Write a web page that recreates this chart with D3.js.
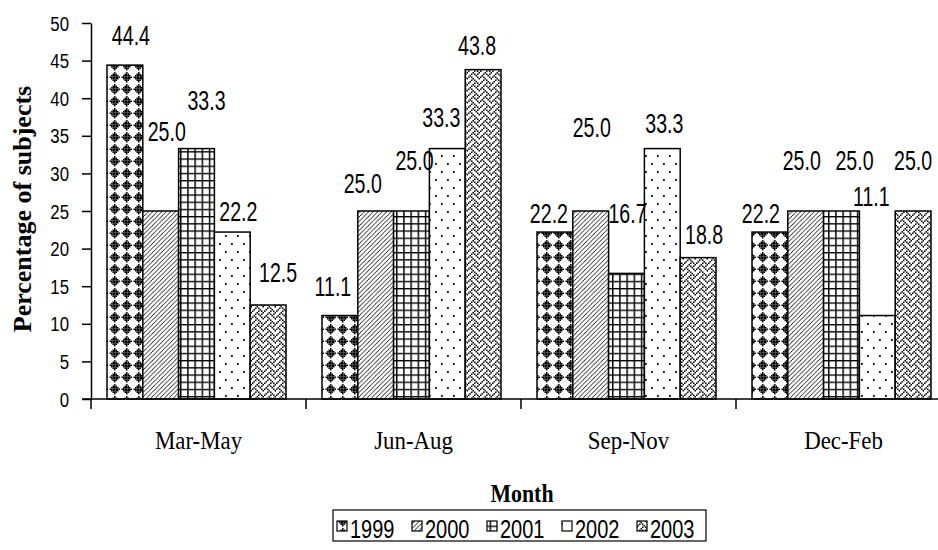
<!DOCTYPE html>
<html><head><meta charset="utf-8">
<script src="https://cdn.jsdelivr.net/npm/d3@7"></script>
<style>html,body{margin:0;padding:0;background:#fff;}</style>
</head><body>
<script>
// ---- data ----
const categories = ["Mar-May", "Jun-Aug", "Sep-Nov", "Dec-Feb"];
const years = ["1999", "2000", "2001", "2002", "2003"];
const v1999 = [44.4, 11.1, 22.2, 22.2];
const v2000 = [25.0, 25.0, 25.0, 25.0];
const v2001 = [33.3, 25.0, 16.7, 25.0];
const v2002 = [22.2, 33.3, 33.3, 11.1];
const v2003 = [12.5, 43.8, 18.8, 25.0];
const yTicks = [0, 5, 10, 15, 20, 25, 30, 35, 40, 45, 50];
const yTitle = "Percentage of subjects";
const xTitle = "Month";

// ---- layout (label offsets from bar top-centre, px) ----
const labelDx = [
  [6, -7, -6, -9],
  [6, -13, 1, -4],
  [10, 3, 1, 13],
  [6, -6, 2, -6],
  [10, -6, 6, 0]
];
const labelDy = [
  [-30, -30, -19, -19],
  [-80, -28, -84, -51],
  [-49, -51, -60, -51],
  [-21, -32, -26, -120],
  [-33, -25, -24, -51]
];

const series = [v1999, v2000, v2001, v2002, v2003];
const W = 938, H = 550;
const svg = d3.select("body").append("svg").attr("width", W).attr("height", H);

// patterns
const defs = svg.append("defs");
function pat(id, w, h) {
  const p = defs.append("pattern").attr("id", id).attr("patternUnits", "userSpaceOnUse")
    .attr("width", w).attr("height", h);
  p.append("rect").attr("width", w).attr("height", h).attr("fill", "#fff");
  return p;
}
function bitmapPat(id, rows, px) {
  const p = pat(id, 8 * px, 8 * px);
  rows.forEach((r, j) => {
    for (let i = 0; i < 8; i++) {
      if (r & (1 << (7 - i))) p.append("rect").attr("x", i * px).attr("y", j * px)
        .attr("width", px).attr("height", px).attr("fill", "#000");
    }
  });
}
bitmapPat("p1999", [0x08, 0x1c, 0x3e, 0x7f, 0x3e, 0x1c, 0x08, 0x00], 1.5);
{ const p = pat("p2000", 4.5, 4.5);
  p.append("path").attr("d", "M-1,5.5 L5.5,-1 M-1,1 L1,-1 M3.5,5.5 L5.5,3.5").attr("stroke", "#000").attr("stroke-width", 0.9); }
{ const p = pat("p2001", 7.2, 7.2);
  p.append("path").attr("d", "M0,0.7 H7.2 M0.7,0 V7.2").attr("stroke", "#000").attr("stroke-width", 1.5); }
{ const p = pat("p2002", 12, 16);
  p.append("rect").attr("x", 3).attr("y", 3).attr("width", 1.8).attr("height", 1.8).attr("fill", "#000");
  p.append("rect").attr("x", 9).attr("y", 11).attr("width", 1.8).attr("height", 1.8).attr("fill", "#000"); }
bitmapPat("p2003", [0x11, 0x2a, 0x44, 0xa2, 0x11, 0x28, 0x44, 0x8a], 1.5);
const fills = years.map(y => "url(#p" + y + ")");

// scales
const plotL = 91, plotR = 951, y0 = 399, y50 = 23;
const x0 = d3.scaleBand().domain(categories).range([plotL, plotR]).paddingInner(0).paddingOuter(0);
const x1 = d3.scaleBand().domain(years).range([16, x0.bandwidth() - 20]);
const y = d3.scaleLinear().domain([0, 50]).range([y0, y50]);

function txt(sel, x, yy, s, o) {
  return sel.append("text")
    .attr("transform", `translate(${x},${yy}) ${o.rot ? "rotate(-90)" : ""} scale(${o.sx || 1},1)`)
    .attr("text-anchor", o.anchor || "middle")
    .attr("font-family", o.family || "Liberation Sans, Arial, sans-serif")
    .attr("font-size", o.size).attr("font-weight", o.weight || "normal")
    .attr("fill", "#000").text(s);
}

// bars
const gBars = svg.append("g");
years.forEach((yr, si) => {
  gBars.selectAll(null).data(series[si]).enter().append("rect")
    .attr("x", (d, i) => x0(categories[i]) + x1(yr))
    .attr("y", d => y(d))
    .attr("width", x1.bandwidth())
    .attr("height", d => y(0) - y(d))
    .attr("fill", fills[si])
    .attr("stroke", "#000").attr("stroke-width", 1.5);
});

// value labels
const gLab = svg.append("g");
years.forEach((yr, si) => {
  series[si].forEach((d, i) => {
    const cx = x0(categories[i]) + x1(yr) + x1.bandwidth() / 2 + labelDx[si][i];
    const cy = y(d) + labelDy[si][i];
    txt(gLab, cx, cy + 10, d.toFixed(1), { size: 28, sx: 0.7 });
  });
});

// y axis
const yAxis = d3.axisLeft(y).tickValues(yTicks).tickSize(9).tickSizeOuter(0).tickFormat(d3.format("d"));
const gy = svg.append("g").attr("transform", `translate(${plotL},0)`).call(yAxis);
gy.select(".domain").attr("stroke", "#000").attr("stroke-width", 1.5);
gy.selectAll(".tick line").attr("stroke", "#000").attr("stroke-width", 1.5);
gy.selectAll(".tick text").remove();
yTicks.forEach(t => txt(gy, -22, y(t) + 7.5, String(t), { size: 21, sx: 0.8, anchor: "end" }));

// x axis
const xAxis = d3.axisBottom(x0).tickSize(0).tickFormat("");
const gx = svg.append("g").attr("transform", `translate(0,${y0})`).call(xAxis);
gx.select(".domain").attr("stroke", "#000").attr("stroke-width", 1.5)
  .attr("d", `M${plotL - 9},0 H${W}`);
const seps = categories.map(c => x0(c)).concat([x0(categories[categories.length - 1]) + x0.bandwidth()]);
gx.selectAll("line.sep").data(seps).enter().append("line").attr("class", "sep")
  .attr("x1", d => d).attr("x2", d => d).attr("y1", 0).attr("y2", 10)
  .attr("stroke", "#000").attr("stroke-width", 1.5);
categories.forEach(c => txt(gx, x0(c) + x0.bandwidth() / 2, 50, c,
  { size: 26, sx: 0.88, family: "Liberation Serif, Times New Roman, serif" }));

// titles
txt(svg, 522, 502, xTitle, { size: 26, sx: 0.84, weight: "bold", family: "Liberation Serif, Times New Roman, serif" });
txt(svg, 31, 209, yTitle, { size: 26, sx: 1, weight: "bold", rot: true, family: "Liberation Serif, Times New Roman, serif" });

// legend
const gLeg = svg.append("g");
gLeg.append("rect").attr("x", 333).attr("y", 510).attr("width", 373).attr("height", 31)
  .attr("fill", "#fff").attr("stroke", "#000").attr("stroke-width", 1.2);
const legX = d3.scalePoint().domain(years).range([337, 637]);
years.forEach((yr, si) => {
  const lx = legX(yr);
  gLeg.append("rect").attr("x", lx).attr("y", 521).attr("width", 10).attr("height", 10)
    .attr("fill", fills[si]).attr("stroke", "#000").attr("stroke-width", 1.2);
  txt(gLeg, lx + 13, 538, yr, { size: 25, sx: 0.8, anchor: "start" });
});
</script>
</body></html>
